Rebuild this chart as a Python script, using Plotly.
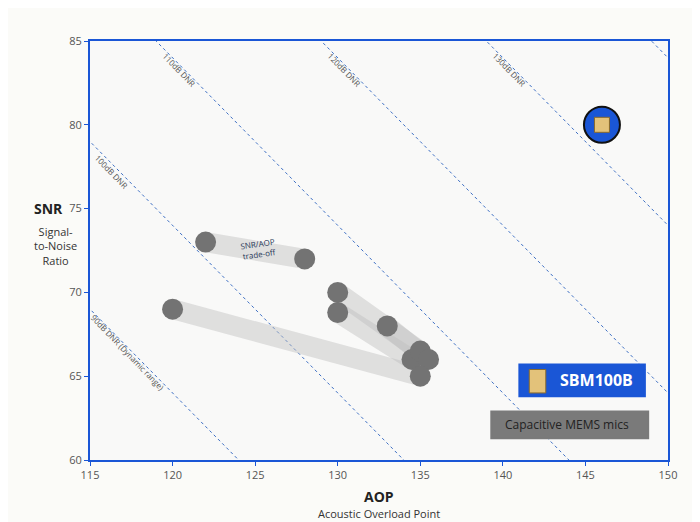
import plotly.graph_objects as go

# MEMS mic data (AOP dB SPL, SNR dB)
mems_aop = [120, 122, 128, 130, 130, 133, 134.5, 135, 135.5, 135]
mems_snr = [69, 73, 72, 70, 68.8, 68, 66, 66.5, 66, 65]
# trade-off bands: (start index, end index)
bands = [(0, 9), (1, 2), (3, 7), (4, 6), (5, 8)]
sbm_aop = [146]
sbm_snr = [80]
dnr_levels = [90, 100, 110, 120, 130, 140]
dnr_labels = ["90dB DNR (Dynamic range)", "100dB DNR", "110dB DNR", "120dB DNR", "130dB DNR", ""]

fig = go.Figure()

# constant DNR lines: SNR = DNR + 94 - AOP
for d in dnr_levels:
    fig.add_trace(go.Scatter(x=[110, 160], y=[d + 94 - 110, d + 94 - 160], mode="lines",
                             line=dict(color="#3d6fc4", width=1, dash="dot"), hoverinfo="skip"))

for a, b in bands:
    fig.add_trace(go.Scatter(x=[mems_aop[a], mems_aop[b]], y=[mems_snr[a], mems_snr[b]], mode="lines",
                             line=dict(color="rgba(190,190,190,0.45)", width=20), hoverinfo="skip"))

fig.add_trace(go.Scatter(x=mems_aop, y=mems_snr, mode="markers",
                         marker=dict(size=21, color="#737373")))
fig.add_trace(go.Scatter(x=sbm_aop, y=sbm_snr, mode="markers",
                         marker=dict(size=36, color="#1a56d6", line=dict(color="#111", width=2))))
fig.add_trace(go.Scatter(x=sbm_aop, y=sbm_snr, mode="markers",
                         marker=dict(size=15, symbol="square", color="#e3c27a",
                                     line=dict(color="#8a6a2a", width=1))))

# DNR labels near top / left edge
label_pos = [(117.3, 66.4), (116.3, 77.2), (120.4, 83.3), (130.4, 83.3), (140.4, 83.3)]
for (x, y), t in zip(label_pos, dnr_labels):
    fig.add_annotation(x=x, y=y, text=t, showarrow=False, textangle=46,
                       font=dict(size=8, color="#555"))
fig.add_annotation(x=125.2, y=72.6, text="SNR/AOP<br>trade-off", showarrow=False, textangle=-8,
                   font=dict(size=8, color="#2a3a5a"))

# legend boxes (data coords)
fig.add_shape(type="rect", x0=141, x1=148.6, y0=63.8, y1=65.7,
              fillcolor="#1a56d6", line=dict(color="#1a56d6"), layer="above")
fig.add_annotation(x=148, y=64.75, text="<b>SBM100B</b>", showarrow=False,
                   xanchor="right", font=dict(size=16, color="white"))
fig.add_shape(type="rect", x0=141.6, x1=142.6, y0=64.0, y1=65.4,
              fillcolor="#e3c27a", line=dict(color="#8a6a2a", width=1), layer="above")
fig.add_shape(type="rect", x0=139.3, x1=148.8, y0=61.3, y1=62.9,
              fillcolor="#7a7a7a", line=dict(color="#7a7a7a"), layer="above")
fig.add_annotation(x=140.0, y=62.1, text="Capacitive MEMS mics", showarrow=False,
                   xanchor="left", font=dict(size=12, color="#222"))

fig.add_annotation(xref="paper", yref="paper", x=-0.1, y=0.6, text="<b>SNR</b>", showarrow=False,
                   font=dict(size=14, color="#222"))
fig.add_annotation(xref="paper", yref="paper", x=-0.1, y=0.51, text="Signal-<br>to-Noise<br>Ratio",
                   showarrow=False, font=dict(size=11, color="#333"))
fig.add_annotation(xref="paper", yref="paper", x=0.5, y=-0.06, text="<b>AOP</b>", showarrow=False,
                   yanchor="top", font=dict(size=14, color="#222"))
fig.add_annotation(xref="paper", yref="paper", x=0.5, y=-0.105, text="Acoustic Overload Point", showarrow=False,
                   yanchor="top", font=dict(size=11, color="#333"))

fig.update_layout(
    width=700, height=522, showlegend=False,
    margin=dict(l=82, r=40, t=33, b=70),
    paper_bgcolor="#fbfbf8", plot_bgcolor="#f9f9f8",
    font=dict(family="Open Sans, sans-serif"),
)
fig.update_xaxes(range=[115, 150], dtick=5, showgrid=False, zeroline=False, ticks="outside",
                 ticklen=4, tickcolor="#1a56d6", tickfont=dict(size=11, color="#555"),
                 showline=True, linecolor="#1a56d6", linewidth=2, mirror=True)
fig.update_yaxes(range=[60, 85], dtick=5, showgrid=False, zeroline=False, ticks="outside",
                 ticklen=4, tickcolor="#1a56d6", tickfont=dict(size=11, color="#555"),
                 showline=True, linecolor="#1a56d6", linewidth=2, mirror=True)

fig.write_html("out.html")
